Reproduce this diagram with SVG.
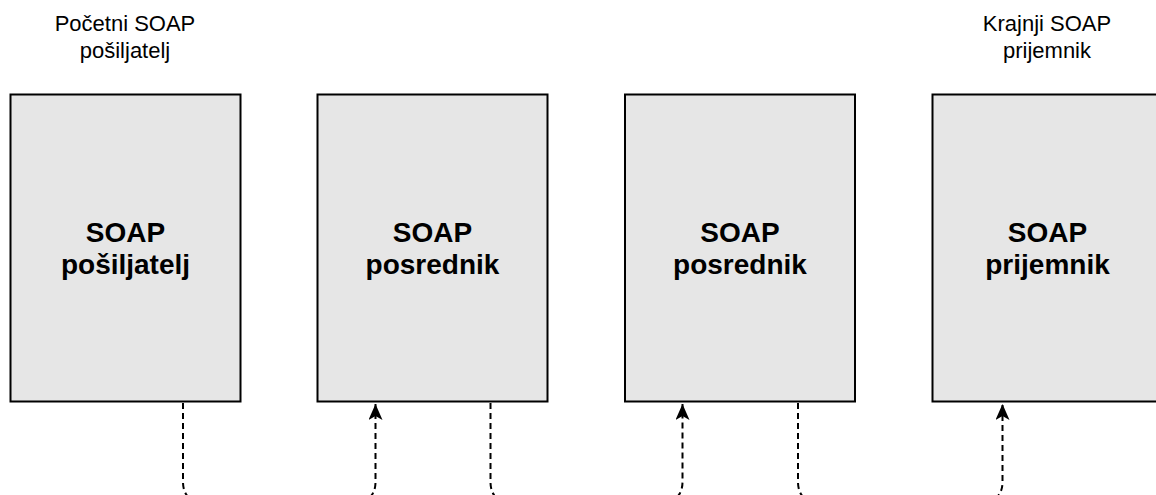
<svg xmlns="http://www.w3.org/2000/svg" width="1156" height="495" viewBox="0 0 1156 495">
<style>
.box{fill:#e6e6e6;stroke:#000;stroke-width:2}
.lbl{font-family:"Liberation Sans",Arial,sans-serif;font-size:22px;fill:#000;text-anchor:middle}
.title{font-family:"Liberation Sans",Arial,sans-serif;font-size:28px;font-weight:bold;fill:#000;text-anchor:middle}
.conn{fill:none;stroke:#000;stroke-width:2;stroke-dasharray:6 4}
</style>
<defs>
<marker id="arr" markerUnits="userSpaceOnUse" markerWidth="20" markerHeight="20" refX="16" refY="7" orient="auto">
<path d="M0,0 L16,7 L0,14 L4,7 Z" fill="#000"/>
</marker>
</defs>
<g id="label-start">
<text class="lbl" x="125" y="31">Početni SOAP</text>
<text class="lbl" x="125" y="58">pošiljatelj</text>
</g>
<g id="label-end">
<text class="lbl" x="1047" y="31">Krajnji SOAP</text>
<text class="lbl" x="1047" y="58">prijemnik</text>
</g>
<g id="node-sender">
<rect class="box" x="10.5" y="94.5" width="230" height="307"/>
<text class="title" x="125.5" y="242">SOAP</text>
<text class="title" x="125.5" y="274">pošiljatelj</text>
</g>
<g id="node-intermediary1">
<rect class="box" x="317.5" y="94.5" width="230" height="307"/>
<text class="title" x="432.5" y="242">SOAP</text>
<text class="title" x="432.5" y="274">posrednik</text>
</g>
<g id="node-intermediary2">
<rect class="box" x="625" y="94.5" width="230" height="307"/>
<text class="title" x="740" y="242">SOAP</text>
<text class="title" x="740" y="274">posrednik</text>
</g>
<g id="node-receiver">
<rect class="box" x="932.5" y="94.5" width="230" height="307"/>
<text class="title" x="1047.5" y="242">SOAP</text>
<text class="title" x="1047.5" y="274">prijemnik</text>
</g>
<g id="connectors">
<path class="conn" d="M183,403 V482 Q183,498 198,503 L360,503 Q375.5,498 375.5,482 V404" marker-end="url(#arr)"/>
<path class="conn" d="M490.5,403 V482 Q490.5,498 505,503 L667,503 Q682.5,498 682.5,482 V404" marker-end="url(#arr)"/>
<path class="conn" d="M798,403 V482 Q798,498 813,503 L987,503 Q1002.5,498 1002.5,482 V404" marker-end="url(#arr)"/>
</g>
</svg>
